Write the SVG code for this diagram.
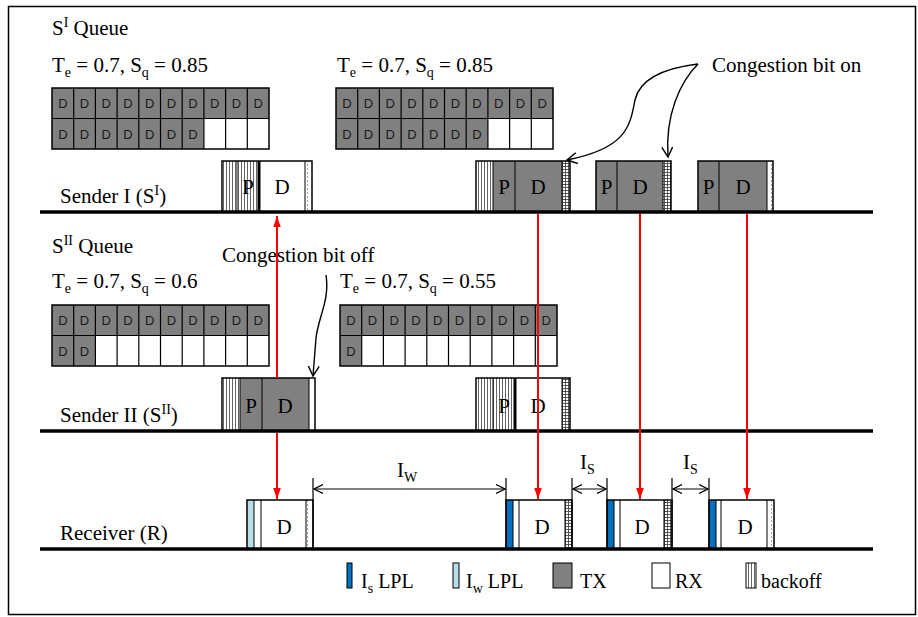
<svg xmlns="http://www.w3.org/2000/svg" xmlns:xlink="http://www.w3.org/1999/xlink" width="918" height="617" viewBox="0 0 918 617">
<style>
.t{font-family:"Liberation Serif","Times New Roman",serif;font-size:21px;fill:#000}
.lg{font-family:"Liberation Serif","Times New Roman",serif;font-size:20px;fill:#000}
.sub{font-size:14px}
.q{font-family:"Liberation Sans",Arial,sans-serif;font-size:13px;fill:#1a1a1a;text-anchor:middle}
.pd{font-family:"Liberation Serif","Times New Roman",serif;font-size:21px;fill:#000;text-anchor:middle}
.gray{fill:#808080}
.wh{fill:#fff}
.ol{fill:none;stroke:#000;stroke-width:1.5}
.sep{stroke:#000;stroke-width:1}
.thick{stroke:#000;stroke-width:3}
.base{stroke:#000;stroke-width:3.5}
.red{stroke:#f00;stroke-width:2;fill:none;marker-end:url(#rh)}
.dim{stroke:#000;stroke-width:1.2;fill:none}
.curve{stroke:#000;stroke-width:1.4;fill:none;marker-end:url(#oh)}
</style>
<defs>
<pattern id="bo" width="3" height="10" patternUnits="userSpaceOnUse">
<rect width="3" height="10" fill="#fff"/>
<line x1="1.5" y1="0" x2="1.5" y2="10" stroke="#555" stroke-width="0.9"/>
</pattern>
<pattern id="hatch" width="3" height="3" patternUnits="userSpaceOnUse">
<rect width="3" height="3" fill="#fff"/>
<path d="M1.5,0V3M0,1.5H3" stroke="#333" stroke-width="0.8"/>
</pattern>
<pattern id="dot" width="8" height="4" patternUnits="userSpaceOnUse">
<rect width="8" height="4" fill="#fff"/>
<line x1="3.5" y1="0" x2="3.5" y2="2" stroke="#888" stroke-width="0.8"/>
</pattern>
<marker id="rh" markerWidth="11" markerHeight="16" refX="16" refY="5.5" orient="auto" markerUnits="userSpaceOnUse" viewBox="0 0 16 11">
<path d="M0,0 L16,5.5 L0,11 z" fill="#f00"/>
</marker>
<marker id="dh" markerWidth="10" markerHeight="10" refX="9" refY="5" orient="auto-start-reverse" markerUnits="userSpaceOnUse" viewBox="0 0 10 10">
<path d="M0,0.5 L9,5 L0,9.5" fill="none" stroke="#000" stroke-width="1.2"/>
</marker>
<marker id="oh" markerWidth="12" markerHeight="12" refX="10" refY="6" orient="auto" markerUnits="userSpaceOnUse" viewBox="0 0 12 12">
<path d="M0,0.5 L10,6 L0,11.5" fill="none" stroke="#000" stroke-width="1.4"/>
</marker>
<path id="glines" d="M21.7,0V61M43.4,0V61M65.1,0V61M86.8,0V61M108.5,0V61M130.2,0V61M151.9,0V61M173.6,0V61M195.3,0V61M0,30.5H217" stroke="#000" stroke-width="1.2" fill="none"/>
</defs>

<rect x="8.5" y="6.5" width="907" height="608" fill="#fff" stroke="#000" stroke-width="1.5"/>

<!-- Queue labels -->
<g id="labels">
<text class="t" x="52" y="35">S<tspan class="sub" dy="-8">I</tspan><tspan dy="8"> Queue</tspan></text>
<text class="t" x="52" y="72">T<tspan class="sub" dy="5">e</tspan><tspan dy="-5"> = 0.7, S</tspan><tspan class="sub" dy="5">q</tspan><tspan dy="-5"> = 0.85</tspan></text>
<text class="t" x="337" y="72">T<tspan class="sub" dy="5">e</tspan><tspan dy="-5"> = 0.7, S</tspan><tspan class="sub" dy="5">q</tspan><tspan dy="-5"> = 0.85</tspan></text>
<text class="t" x="52" y="253">S<tspan class="sub" dy="-8">II</tspan><tspan dy="8"> Queue</tspan></text>
<text class="t" x="52" y="288">T<tspan class="sub" dy="5">e</tspan><tspan dy="-5"> = 0.7, S</tspan><tspan class="sub" dy="5">q</tspan><tspan dy="-5"> = 0.6</tspan></text>
<text class="t" x="340" y="288">T<tspan class="sub" dy="5">e</tspan><tspan dy="-5"> = 0.7, S</tspan><tspan class="sub" dy="5">q</tspan><tspan dy="-5"> = 0.55</tspan></text>
<text class="t" x="712" y="72">Congestion bit on</text>
<text class="t" x="222" y="262">Congestion bit off</text>
<text class="t" x="60" y="203">Sender I (S<tspan class="sub" dy="-8">I</tspan><tspan dy="8">)</tspan></text>
<text class="t" x="60" y="422">Sender II (S<tspan class="sub" dy="-8">II</tspan><tspan dy="8">)</tspan></text>
<text class="t" x="60" y="540">Receiver (R)</text>
</g>

<!-- Queues -->
<g id="q1" transform="translate(52,88)">
<rect class="gray" x="0" y="0" width="217" height="30.5"/>
<rect class="gray" x="0" y="30.5" width="151.9" height="30.5"/>
<rect class="wh" x="151.9" y="30.5" width="65.1" height="30.5"/>
<use xlink:href="#glines"/>
<rect class="ol" x="0" y="0" width="217" height="61"/>
<text class="q" x="10.85 32.55 54.25 75.95 97.65 119.35 141.05 162.75 184.45 206.15" y="20">DDDDDDDDDD</text>
<text class="q" x="10.85 32.55 54.25 75.95 97.65 119.35 141.05" y="50.5">DDDDDDD</text>
</g>
<g id="q2" transform="translate(336,88)">
<rect class="gray" x="0" y="0" width="217" height="30.5"/>
<rect class="gray" x="0" y="30.5" width="151.9" height="30.5"/>
<rect class="wh" x="151.9" y="30.5" width="65.1" height="30.5"/>
<use xlink:href="#glines"/>
<rect class="ol" x="0" y="0" width="217" height="61"/>
<text class="q" x="10.85 32.55 54.25 75.95 97.65 119.35 141.05 162.75 184.45 206.15" y="20">DDDDDDDDDD</text>
<text class="q" x="10.85 32.55 54.25 75.95 97.65 119.35 141.05" y="50.5">DDDDDDD</text>
</g>
<g id="q3" transform="translate(52,305)">
<rect class="gray" x="0" y="0" width="217" height="30.5"/>
<rect class="gray" x="0" y="30.5" width="43.4" height="30.5"/>
<rect class="wh" x="43.4" y="30.5" width="173.6" height="30.5"/>
<use xlink:href="#glines"/>
<rect class="ol" x="0" y="0" width="217" height="61"/>
<text class="q" x="10.85 32.55 54.25 75.95 97.65 119.35 141.05 162.75 184.45 206.15" y="20">DDDDDDDDDD</text>
<text class="q" x="10.85 32.55" y="50.5">DD</text>
</g>
<g id="q4" transform="translate(340,305)">
<rect class="gray" x="0" y="0" width="217" height="30.5"/>
<rect class="gray" x="0" y="30.5" width="21.7" height="30.5"/>
<rect class="wh" x="21.7" y="30.5" width="195.3" height="30.5"/>
<use xlink:href="#glines"/>
<rect class="ol" x="0" y="0" width="217" height="61"/>
<text class="q" x="10.85 32.55 54.25 75.95 97.65 119.35 141.05 162.75 184.45 206.15" y="20">DDDDDDDDDD</text>
<text class="q" x="10.85" y="50.5">D</text>
</g>

<!-- Sender I packets -->
<g id="s1p1">
<rect x="222" y="161" width="15" height="51" fill="url(#bo)"/>
<rect x="237" y="161" width="22" height="51" fill="url(#bo)"/>
<rect class="wh" x="259" y="161" width="46" height="51"/>
<rect x="305" y="161" width="7" height="51" fill="url(#dot)"/>
<path class="sep" d="M237,161V212M305,161V212"/>
<path class="thick" d="M259,161V212"/>
<rect class="ol" x="222" y="161" width="90" height="51"/>
<text class="pd" x="248" y="194">P</text><text class="pd" x="282" y="194">D</text>
</g>
<g id="s1p2">
<rect x="476" y="161" width="17" height="51" fill="url(#bo)"/>
<rect class="gray" x="493" y="161" width="69" height="51"/>
<rect x="562" y="161" width="8" height="51" fill="url(#hatch)"/>
<path class="sep" d="M493,161V212M515,161V212M562,161V212"/>
<rect class="ol" x="476" y="161" width="94" height="51"/>
<text class="pd" x="504" y="194">P</text><text class="pd" x="538" y="194">D</text>
</g>
<g id="s1p3">
<rect class="gray" x="596" y="161" width="67" height="51"/>
<rect x="663" y="161" width="8" height="51" fill="url(#hatch)"/>
<path class="sep" d="M617,161V212M663,161V212"/>
<rect class="ol" x="596" y="161" width="75" height="51"/>
<text class="pd" x="606.5" y="194">P</text><text class="pd" x="640" y="194">D</text>
</g>
<g id="s1p4">
<rect class="gray" x="698" y="161" width="69" height="51"/>
<rect x="767" y="161" width="6" height="51" fill="url(#dot)"/>
<path class="sep" d="M719,161V212M767,161V212"/>
<rect class="ol" x="698" y="161" width="75" height="51"/>
<text class="pd" x="708.5" y="194">P</text><text class="pd" x="743" y="194">D</text>
</g>

<!-- Sender II packets -->
<g id="s2p1">
<rect x="222" y="378" width="18" height="53" fill="url(#bo)"/>
<rect class="gray" x="240" y="378" width="69" height="53"/>
<rect x="309" y="378" width="6" height="53" fill="url(#dot)"/>
<path class="sep" d="M240,378V431M262,378V431M309,378V431"/>
<rect class="ol" x="222" y="378" width="93" height="53"/>
<text class="pd" x="251" y="413">P</text><text class="pd" x="285" y="413">D</text>
</g>
<g id="s2p2">
<rect x="476" y="378" width="17" height="53" fill="url(#bo)"/>
<rect x="493" y="378" width="22" height="53" fill="url(#bo)"/>
<rect class="wh" x="515" y="378" width="47" height="53"/>
<rect x="562" y="378" width="8" height="53" fill="url(#hatch)"/>
<path class="sep" d="M493,378V431M562,378V431"/>
<path class="thick" d="M515,378V431"/>
<rect class="ol" x="476" y="378" width="94" height="53"/>
<text class="pd" x="504" y="413">P</text><text class="pd" x="538" y="413">D</text>
</g>

<!-- Receiver packets -->
<g id="rp1">
<rect x="247" y="500" width="7" height="49" fill="#b7dee8"/>
<rect class="wh" x="254" y="500" width="52" height="49"/>
<rect x="306" y="500" width="7" height="49" fill="url(#dot)"/>
<path class="sep" d="M254,500V549M261,500V549M306,500V549"/>
<rect class="ol" x="247" y="500" width="66" height="49"/>
<text class="pd" x="284" y="534">D</text>
</g>
<g id="rp2">
<rect x="506" y="500" width="7" height="49" fill="#0070c0"/>
<rect class="wh" x="513" y="500" width="52" height="49"/>
<rect x="565" y="500" width="7" height="49" fill="url(#hatch)"/>
<path class="sep" d="M513,500V549M519,500V549M565,500V549"/>
<rect class="ol" x="506" y="500" width="66" height="49"/>
<text class="pd" x="542" y="534">D</text>
</g>
<g id="rp3">
<rect x="607" y="500" width="7" height="49" fill="#0070c0"/>
<rect class="wh" x="614" y="500" width="50" height="49"/>
<rect x="664" y="500" width="8" height="49" fill="url(#hatch)"/>
<path class="sep" d="M614,500V549M620,500V549M664,500V549"/>
<rect class="ol" x="607" y="500" width="65" height="49"/>
<text class="pd" x="642" y="534">D</text>
</g>
<g id="rp4">
<rect x="709" y="500" width="7" height="49" fill="#0070c0"/>
<rect class="wh" x="716" y="500" width="51" height="49"/>
<rect x="767" y="500" width="7" height="49" fill="url(#dot)"/>
<path class="sep" d="M716,500V549M721,500V549M767,500V549"/>
<rect class="ol" x="709" y="500" width="65" height="49"/>
<text class="pd" x="745" y="534">D</text>
</g>

<!-- Timelines -->
<g id="timelines">
<line class="base" x1="40" y1="212" x2="873" y2="212"/>
<line class="base" x1="40" y1="431" x2="873" y2="431"/>
<line class="base" x1="40" y1="549" x2="873" y2="549"/>
</g>

<!-- Connectors -->
<g id="connectors">
<path class="red" d="M277,378V216"/>
<path class="red" d="M277,433V499"/>
<path class="red" d="M538,214V499"/>
<path class="red" d="M640,214V499"/>
<path class="red" d="M747,214V499"/>
<path class="dim" d="M313,478V549M506,478V549M572,478V549M607,478V549M672,478V549M709,478V549"/>
<path class="dim" d="M314,489H505" marker-start="url(#dh)" marker-end="url(#dh)"/>
<path class="dim" d="M573,489H606" marker-start="url(#dh)" marker-end="url(#dh)"/>
<path class="dim" d="M673,489H708" marker-start="url(#dh)" marker-end="url(#dh)"/>
<path class="curve" d="M698,64 C665,68 640,78 635,100 C630,125 628,148 567,160"/>
<path class="curve" d="M698,64 C680,82 665,115 668,157"/>
<path class="curve" d="M326,275 C330,300 318,318 316,338 C315,352 314,362 313,376"/>
<text class="t" x="397" y="477">I<tspan class="sub" dy="5">W</tspan></text>
<text class="t" x="580" y="469">I<tspan class="sub" dy="5">S</tspan></text>
<text class="t" x="683" y="469">I<tspan class="sub" dy="5">S</tspan></text>
</g>

<!-- Legend -->
<g id="legend">
<rect x="347" y="563" width="5" height="25" fill="#0070c0" stroke="#000" stroke-width="1"/>
<text class="lg" x="361" y="588">I<tspan class="sub" dy="5">s</tspan><tspan dy="-5"> LPL</tspan></text>
<rect x="453" y="563" width="6" height="25" fill="#b7dee8" stroke="#000" stroke-width="1"/>
<text class="lg" x="466" y="588">I<tspan class="sub" dy="5">w</tspan><tspan dy="-5"> LPL</tspan></text>
<rect x="553" y="563" width="19" height="25" fill="#808080" stroke="#000" stroke-width="1"/>
<text class="lg" x="580" y="588">TX</text>
<rect x="652" y="563" width="18" height="25" fill="#fff" stroke="#000" stroke-width="1"/>
<text class="lg" x="675" y="588">RX</text>
<rect x="746" y="563" width="10" height="25" fill="url(#bo)" stroke="#000" stroke-width="1"/>
<text class="lg" x="761" y="588">backoff</text>
</g>
</svg>
